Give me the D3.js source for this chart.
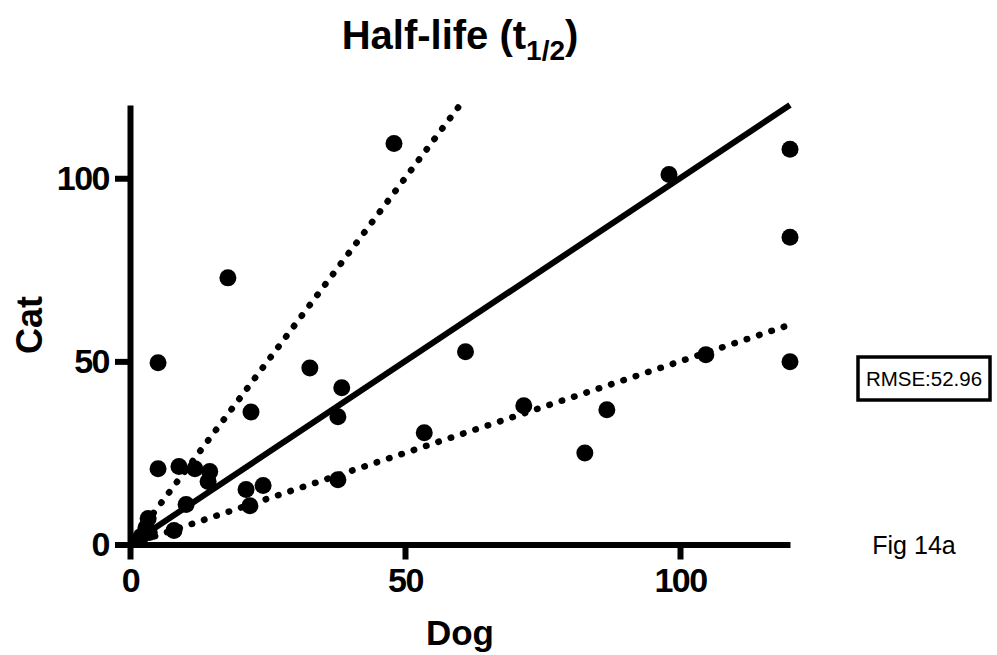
<!DOCTYPE html>
<html lang="en">
	<head>
		<meta charset="utf-8">
		<title>Half-life scatter</title>
		<script type="text/javascript" src="https://cdn.jsdelivr.net/npm/d3@7"></script>
		<style>
			body {
				margin: 0;
				background: #fff;
				font-family: "Helvetica Neue", Helvetica, Arial, "Liberation Sans", sans-serif;
			}
			svg text { fill: #000; }
		</style>
	</head>
	<body>
		<script type="text/javascript">

			//Data
			var dogValues = [48, 17.8, 5.1, 32.7, 38.5, 22, 37.8, 61, 53.5, 71.6, 86.7, 82.7, 104.7, 120, 120, 120, 98,
			                 5.1, 8.9, 11.8, 14.5, 14.2, 21.1, 24.2, 21.8, 37.8, 10.2, 3.3, 8, 2.9, 2, 3.5];
			var catValues = [109.5, 72.8, 49.6, 48.2, 42.8, 36.2, 34.9, 52.6, 30.5, 37.9, 36.8, 25, 51.8, 49.9, 83.9, 107.9, 101,
			                 20.7, 21.3, 20.7, 19.9, 17.2, 15, 16.1, 10.6, 17.7, 10.9, 7.1, 3.8, 4.6, 2.2, 3.3];
			var xTicks = [0, 50, 100];
			var yTicks = [0, 50, 100];
			//Reference lines: identity, 2-fold above and 2-fold below
			var identityLine = [[0, 0], [120, 120]];
			var upperLine = [[0, 0], [60, 120]];
			var lowerLine = [[0, 0], [120, 60]];
			var rmseText = "RMSE:52.96";

			//Width and height
			var w = 997;
			var h = 655;

			var svg = d3.select("body")
						.append("svg")
						.attr("width", w)
						.attr("height", h);

			svg.append("rect")
			   .attr("width", w)
			   .attr("height", h)
			   .attr("fill", "#fff");

			//Scales
			var x = d3.scaleLinear().domain([0, 120]).range([130, 790]);
			var y = d3.scaleLinear().domain([0, 120]).range([544.5, 105]);

			//Reference lines
			var line = d3.line()
						 .x(function(d) { return x(d[0]); })
						 .y(function(d) { return y(d[1]); });

			svg.append("path")
			   .attr("d", line(identityLine))
			   .attr("fill", "none")
			   .attr("stroke", "#000")
			   .attr("stroke-width", 6);

			[upperLine, lowerLine].forEach(function(l) {
				svg.append("path")
				   .attr("d", line(l))
				   .attr("fill", "none")
				   .attr("stroke", "#000")
				   .attr("stroke-width", 6.5)
				   .attr("stroke-linecap", "round")
				   .attr("stroke-dasharray", "0.5 12.5");
			});

			//Axes
			var xAxis = svg.append("g")
						   .attr("transform", "translate(0," + y(0) + ")")
						   .call(d3.axisBottom(x).tickValues(xTicks).tickSize(15).tickSizeOuter(0).tickPadding(8));

			var yAxis = svg.append("g")
						   .attr("transform", "translate(" + x(0) + ",0)")
						   .call(d3.axisLeft(y).tickValues(yTicks).tickSize(15).tickSizeOuter(0).tickPadding(6));

			[xAxis, yAxis].forEach(function(a) {
				a.select(".domain").attr("stroke-width", 6);
				a.selectAll(".tick line").attr("stroke-width", 6);
				a.selectAll(".tick text")
				 .attr("font-size", 34)
				 .attr("font-weight", "bold")
				 .attr("letter-spacing", -1.5)
				 .attr("font-family", "'Helvetica Neue', Helvetica, Arial, 'Liberation Sans', sans-serif");
			});

			//Points
			svg.selectAll("circle")
			   .data(dogValues)
			   .enter()
			   .append("circle")
			   .attr("cx", function(d) { return x(d); })
			   .attr("cy", function(d, i) { return y(catValues[i]); })
			   .attr("r", 8.5)
			   .attr("fill", "#000");

			//Title
			var title = svg.append("text")
						   .attr("x", 460)
						   .attr("y", 49)
						   .attr("text-anchor", "middle")
						   .attr("font-size", 40)
						   .attr("font-weight", "bold");
			title.append("tspan").text("Half-life (t");
			title.append("tspan").attr("font-size", 28).attr("dy", 11).text("1/2");
			title.append("tspan").attr("dy", -11).text(")");

			//Axis titles
			svg.append("text")
			   .attr("x", 460)
			   .attr("y", 645)
			   .attr("text-anchor", "middle")
			   .attr("font-size", 35)
			   .attr("font-weight", "bold")
			   .text("Dog");

			svg.append("text")
			   .attr("transform", "translate(42,325) rotate(-90)")
			   .attr("text-anchor", "middle")
			   .attr("font-size", 36)
			   .attr("font-weight", "bold")
			   .text("Cat");

			//RMSE box
			svg.append("rect")
			   .attr("x", 858)
			   .attr("y", 357)
			   .attr("width", 132)
			   .attr("height", 43)
			   .attr("fill", "#fff")
			   .attr("stroke", "#000")
			   .attr("stroke-width", 3.5);

			svg.append("text")
			   .attr("x", 924)
			   .attr("y", 386)
			   .attr("text-anchor", "middle")
			   .attr("font-size", 20.5)
			   .text(rmseText);

			svg.append("text")
			   .attr("x", 914)
			   .attr("y", 554)
			   .attr("text-anchor", "middle")
			   .attr("font-size", 25)
			   .text("Fig 14a");

		</script>
	</body>
</html>
